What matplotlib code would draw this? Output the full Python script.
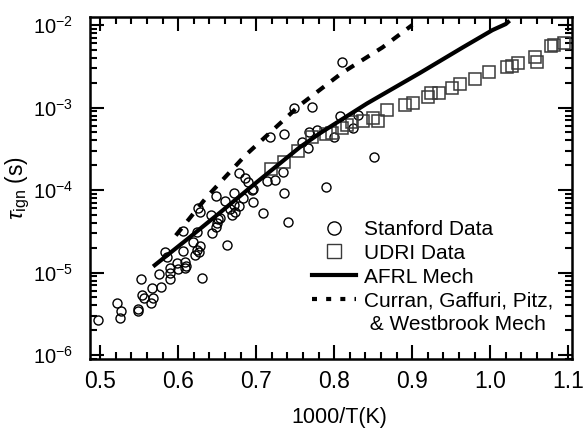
import matplotlib
matplotlib.use('Agg')
import matplotlib.pyplot as plt
from matplotlib.lines import Line2D
from matplotlib.ticker import MultipleLocator, LogLocator

plt.rcParams['font.family'] = ['Liberation Sans', 'DejaVu Sans']
plt.rcParams['mathtext.fontset'] = 'custom'
plt.rcParams['mathtext.rm'] = 'Liberation Sans'
plt.rcParams['mathtext.it'] = 'Liberation Sans:italic'
plt.rcParams['axes.unicode_minus'] = False

# Stanford shock tube data (1000/T, ignition delay s)
stanford_x = [0.497, 0.521, 0.527, 0.526, 0.549, 0.549, 0.553, 0.554, 0.556, 0.567,
              0.568, 0.565, 0.576, 0.578, 0.583, 0.586, 0.589, 0.590, 0.590, 0.599,
              0.600, 0.609, 0.609, 0.606, 0.619, 0.621, 0.624, 0.627, 0.628, 0.631,
              0.606, 0.624, 0.626, 0.628, 0.644, 0.649, 0.649, 0.642, 0.654, 0.663,
              0.667, 0.671, 0.673, 0.678, 0.671, 0.683, 0.696, 0.695, 0.689, 0.660,
              0.651, 0.650, 0.669, 0.696, 0.686, 0.678, 0.714, 0.724, 0.735, 0.736,
              0.709, 0.741, 0.718, 0.736, 0.749, 0.772, 0.768, 0.778, 0.759, 0.767,
              0.800, 0.808, 0.824, 0.830, 0.810, 0.851, 0.790, 0.610]
stanford_y = [2.65e-6, 4.27e-6, 3.41e-6, 2.80e-6, 3.61e-6, 3.41e-6, 8.34e-6, 5.33e-6, 4.91e-6, 6.49e-6,
              4.91e-6, 4.27e-6, 9.59e-6, 6.67e-6, 1.77e-5, 1.54e-5, 1.13e-5, 9.87e-6, 8.34e-6, 1.30e-5,
              1.10e-5, 1.34e-5, 1.13e-5, 1.82e-5, 2.34e-5, 1.63e-5, 1.87e-5, 1.77e-5, 2.09e-5, 8.57e-6,
              3.18e-5, 3.10e-5, 6.05e-5, 5.41e-5, 3.01e-5, 3.56e-5, 8.46e-5, 4.97e-5, 4.58e-5, 2.15e-5,
              5.89e-5, 6.58e-5, 5.41e-5, 6.40e-5, 9.20e-5, 8.00e-5, 7.16e-5, 1.00e-4, 1.25e-4, 7.36e-5,
              4.45e-5, 3.98e-5, 4.97e-5, 1.03e-4, 1.40e-4, 1.61e-4, 1.29e-4, 1.32e-4, 1.65e-4, 9.20e-5,
              5.26e-5, 4.09e-5, 4.39e-4, 4.77e-4, 9.86e-4, 1.01e-3, 5.04e-4, 5.33e-4, 3.82e-4, 3.23e-4,
              4.39e-4, 7.88e-4, 5.65e-4, 8.11e-4, 3.56e-3, 2.51e-4, 1.09e-4, 1.20e-5]

# UDRI data
udri_x = [0.719, 0.736, 0.754, 0.772, 0.789, 0.797, 0.810, 0.817, 0.823, 0.837,
          0.850, 0.856, 0.868, 0.891, 0.901, 0.921, 0.924, 0.935, 0.951, 0.962,
          0.980, 0.999, 1.022, 1.028, 1.036, 1.058, 1.060, 1.078, 1.082, 1.095]
udri_y = [1.80e-4, 2.18e-4, 2.97e-4, 4.39e-4, 4.77e-4, 4.91e-4, 5.65e-4, 6.14e-4, 6.67e-4, 6.86e-4,
          7.46e-4, 6.86e-4, 9.33e-4, 1.07e-3, 1.13e-3, 1.34e-3, 1.50e-3, 1.50e-3, 1.72e-3, 1.93e-3,
          2.22e-3, 2.69e-3, 3.10e-3, 3.19e-3, 3.46e-3, 4.09e-3, 3.56e-3, 5.56e-3, 5.73e-3, 6.05e-3]

# model curves
afrl_x = [0.570, 0.615, 0.654, 0.700, 0.756, 0.782, 0.842, 0.910, 0.965, 1.003, 1.020, 1.023]
afrl_y = [1.23e-5, 2.69e-5, 5.37e-5, 1.23e-4, 3.31e-4, 4.90e-4, 1.12e-3, 2.63e-3, 5.37e-3, 8.70e-3, 1.03e-2, 1.09e-2]

curran_x = [0.597, 0.637, 0.686, 0.756, 0.810, 0.862, 0.900]
curran_y = [2.82e-5, 8.32e-5, 2.63e-4, 1.07e-3, 2.63e-3, 5.37e-3, 1.00e-2]

fig = plt.figure(figsize=(5.86, 4.28), dpi=100)
ax = fig.add_axes([0.1536, 0.161, 0.8225, 0.799])

ax.plot(stanford_x, stanford_y, 'o', mfc='none', mec='black', ms=6.5, mew=1.0)
ax.plot(udri_x, udri_y, 's', mfc='none', mec='#3a3a3a', ms=8, mew=1.1)
ax.plot(afrl_x, afrl_y, 'k-', lw=3)
ax.plot(curran_x, curran_y, color='black', lw=3, ls=(0, (2.2, 2.2)))

ax.set_yscale('log')
ax.set_xlim(0.487, 1.105)
ax.set_ylim(8.95e-7, 1.25e-2)

ax.xaxis.set_major_locator(MultipleLocator(0.1))
ax.xaxis.set_minor_locator(MultipleLocator(0.02))
ax.yaxis.set_major_locator(LogLocator(base=10, numticks=10))
ax.yaxis.set_minor_locator(LogLocator(base=10, subs=range(2, 10), numticks=10))
ax.xaxis.set_major_formatter(plt.FuncFormatter(lambda v, p: '%.1f' % v))

ax.tick_params(which='both', direction='in', top=True, right=True, width=1.5)
ax.tick_params(which='major', length=10, pad=8)
ax.tick_params(which='minor', length=5)
ax.tick_params(axis='x', labelsize=16.5)
ax.tick_params(axis='y', which='major', pad=12, labelsize=14.5)
for s in ax.spines.values():
    s.set_linewidth(1.8)

ax.set_xlabel('1000/T(K)', fontsize=15.5)
ax.xaxis.set_label_coords(0.517, -0.14)
ax.set_ylabel(r'$\tau_{\mathrm{ign}}$ (s)', fontsize=16.5)
ax.yaxis.set_label_coords(-0.12, 0.5)

handles = [
    Line2D([], [], ls='none', marker='o', mfc='none', mec='black', ms=9.5, mew=1.0),
    Line2D([], [], ls='none', marker='s', mfc='none', mec='#3a3a3a', ms=9.5, mew=1.0),
    Line2D([], [], color='black', lw=3),
    Line2D([], [], color='black', lw=3, ls=(0, (1.2, 2.2))),
    Line2D([], [], ls='none'),
]
labels = ['Stanford Data', 'UDRI Data', 'AFRL Mech', 'Curran, Gaffuri, Pitz,', ' & Westbrook Mech']
ax.legend(handles, labels, loc='upper left', bbox_to_anchor=(0.532, 0.486), bbox_transform=fig.transFigure,
          frameon=False, fontsize=15, handlelength=2.1, handletextpad=0.4, labelspacing=0.23,
          borderpad=0, borderaxespad=0)

fig.savefig('out.png', dpi=100)
